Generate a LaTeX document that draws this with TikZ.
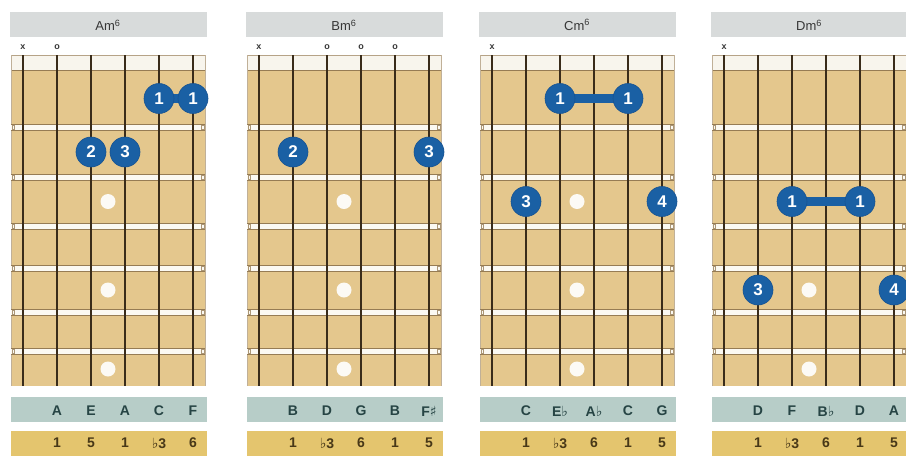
\documentclass[tikz,border=0pt]{standalone}
\usepackage{fontspec}
\setmainfont{Liberation Sans}
\newfontfamily\symfont{DejaVu Sans}
\pgfdeclarelayer{board}
\pgfdeclarelayer{bar}
\pgfsetlayers{board,bar,main}
\definecolor{wood}{RGB}{228,199,141}
\definecolor{nutwhite}{RGB}{248,245,237}
\definecolor{fretwhite}{RGB}{251,249,242}
\definecolor{fretline}{RGB}{150,124,84}
\definecolor{stringcol}{RGB}{58,44,26}
\definecolor{headgray}{RGB}{216,219,219}
\definecolor{titlecol}{RGB}{55,55,55}
\definecolor{notestrip}{RGB}{183,205,200}
\definecolor{notetext}{RGB}{38,68,68}
\definecolor{degstrip}{RGB}{228,197,110}
\definecolor{degtext}{RGB}{72,56,24}
\definecolor{fingerfill}{RGB}{26,96,164}
\definecolor{fingerdraw}{RGB}{22,82,145}
\definecolor{dotcol}{RGB}{252,250,245}
\newcommand{\flt}{{\symfont\fontseries{m}\selectfont\char"266D}}
\newcommand{\shp}{{\symfont\fontseries{m}\selectfont\char"266F}}
\tikzset{
  titletext/.style={inner sep=0pt, text=titlecol, font=\fontsize{13}{15}\selectfont},
  opentext/.style={inner sep=0pt, text=titlecol, font=\bfseries\fontsize{9}{11}\selectfont},
  notelabel/.style={inner sep=0pt, text=notetext, font=\bfseries\fontsize{14}{16}\selectfont},
  deglabel/.style={inner sep=0pt, text=degtext, font=\bfseries\fontsize{14}{16}\selectfont},
  finger/.style={circle, minimum size=30pt, inner sep=0pt, fill=fingerfill, draw=fingerdraw, line width=0.6pt, text=white, font=\bfseries\fontsize{17}{19}\selectfont},
  barre/.style={fingerfill, line width=9pt},
  inlay/.style={circle, minimum size=15pt, inner sep=0pt, fill=dotcol},
  stringline/.style={stringcol, line width=1.3pt},
  fretedge/.style={fretline, line width=0.6pt},
}
\begin{document}
\begin{tikzpicture}[x=1pt,y=-1pt]
\useasboundingbox (0,0) rectangle (906,456);
\clip (0,0) rectangle (906,456);
\begin{pgfonlayer}{board}
\fill[white] (0,0) rectangle (906,456);
\foreach \s in {23,259,492,724}{
  % header
  \fill[headgray] (\s-13,12) rectangle (\s+184,37);
  % board
  \fill[wood] (\s-12,55) rectangle (\s+182,386);
  \fill[nutwhite] (\s-12,55) rectangle (\s+182,70);
  \draw[fretline!70, line width=0.6pt] (\s-12,55) -- (\s+182,55);
  \draw[fretline, line width=1pt] (\s-12,70) -- (\s+182,70);
  \draw[fretline!60, line width=0.5pt] (\s-12,55) -- (\s-12,386) (\s+182,55) -- (\s+182,386);
  \foreach \y in {127,177,226,268,312,351}{
    \fill[fretwhite] (\s-12,\y-2.5) rectangle (\s+182,\y+2.5);
    \draw[fretedge] (\s-12,\y-2.8) -- (\s+182,\y-2.8);
    \draw[fretedge] (\s-12,\y+2.8) -- (\s+182,\y+2.8);
    \draw[fretline!80, line width=0.4pt] (\s-11,\y-2.2) rectangle (\s-8.5,\y+2.2);
    \draw[fretline!80, line width=0.4pt] (\s+181,\y-2.2) rectangle (\s+178.5,\y+2.2);
  }
  % strings
  \foreach \i in {0,...,5}{
    \draw[stringline] (\s+34*\i,55) -- (\s+34*\i,386);
  }
  % inlay dots (5th and 7th fret)
  \foreach \y/\k in {290/b,369/c}{
    \node[inlay] (dot-\s-\k) at (\s+85,\y) {};
  }
  % strips
  \fill[notestrip] (\s-12,397) rectangle (\s+184,422);
  \fill[degstrip] (\s-12,431) rectangle (\s+184,456);
}
% 3rd fret inlay dots (hidden under the barre in Dm6)
\foreach \s in {23,259,492}{
  \node[inlay] (dot-\s-a) at (\s+85,201.5) {};
}
\end{pgfonlayer}
% titles
\node[titletext] (t1) at (108,25) {Am\textsuperscript{6}};
\node[titletext] (t2) at (344,25) {Bm\textsuperscript{6}};
\node[titletext] (t3) at (577,25) {Cm\textsuperscript{6}};
\node[titletext] (t4) at (809,25) {Dm\textsuperscript{6}};
% open / muted markers
\node[opentext] (m1x) at (23,47) {x};
\node[opentext] (m1o) at (57,47) {o};
\node[opentext] (m2x) at (259,47) {x};
\node[opentext] (m2o3) at (327,47) {o};
\node[opentext] (m2o4) at (361,47) {o};
\node[opentext] (m2o5) at (395,47) {o};
\node[opentext] (m3x) at (492,47) {x};
\node[opentext] (m4x) at (724,47) {x};
% fingers
\node[finger] (a1) at (159,98.5) {1};
\node[finger] (a2) at (193,98.5) {1};
\node[finger] (a3) at (91,152) {2};
\node[finger] (a4) at (125,152) {3};
\node[finger] (b1) at (293,152) {2};
\node[finger] (b2) at (429,152) {3};
\node[finger] (c1) at (560,98.5) {1};
\node[finger] (c2) at (628,98.5) {1};
\node[finger] (c3) at (526,201.5) {3};
\node[finger] (c4) at (662,201.5) {4};
\node[finger] (d1) at (792,201.5) {1};
\node[finger] (d2) at (860,201.5) {1};
\node[finger] (d3) at (758,290) {3};
\node[finger] (d4) at (894,290) {4};
\begin{pgfonlayer}{bar}
\draw[barre] (a1.center) -- (a2.center);
\draw[barre] (c1.center) -- (c2.center);
\draw[barre] (d1.center) -- (d2.center);
\end{pgfonlayer}
% note names
\foreach \s/\p/\a/\b/\c/\d/\e in {23/1/A/E/A/C/F, 259/2/B/D/G/B/F\shp, 492/3/C/E\flt/A\flt/C/G, 724/4/D/F/B\flt/D/A}{
  \node[notelabel] (n\p-2) at (\s+34,411) {\a};
  \node[notelabel] (n\p-3) at (\s+68,411) {\b};
  \node[notelabel] (n\p-4) at (\s+102,411) {\c};
  \node[notelabel] (n\p-5) at (\s+136,411) {\d};
  \node[notelabel] (n\p-6) at (\s+170,411) {\e};
}
% degrees
\foreach \s/\p/\a/\b/\c/\d/\e in {23/1/1/5/1/\flt3/6, 259/2/1/\flt3/6/1/5, 492/3/1/\flt3/6/1/5, 724/4/1/\flt3/6/1/5}{
  \node[deglabel] (g\p-2) at (\s+34,443) {\a};
  \node[deglabel] (g\p-3) at (\s+68,443) {\b};
  \node[deglabel] (g\p-4) at (\s+102,443) {\c};
  \node[deglabel] (g\p-5) at (\s+136,443) {\d};
  \node[deglabel] (g\p-6) at (\s+170,443) {\e};
}
\end{tikzpicture}
\end{document}
